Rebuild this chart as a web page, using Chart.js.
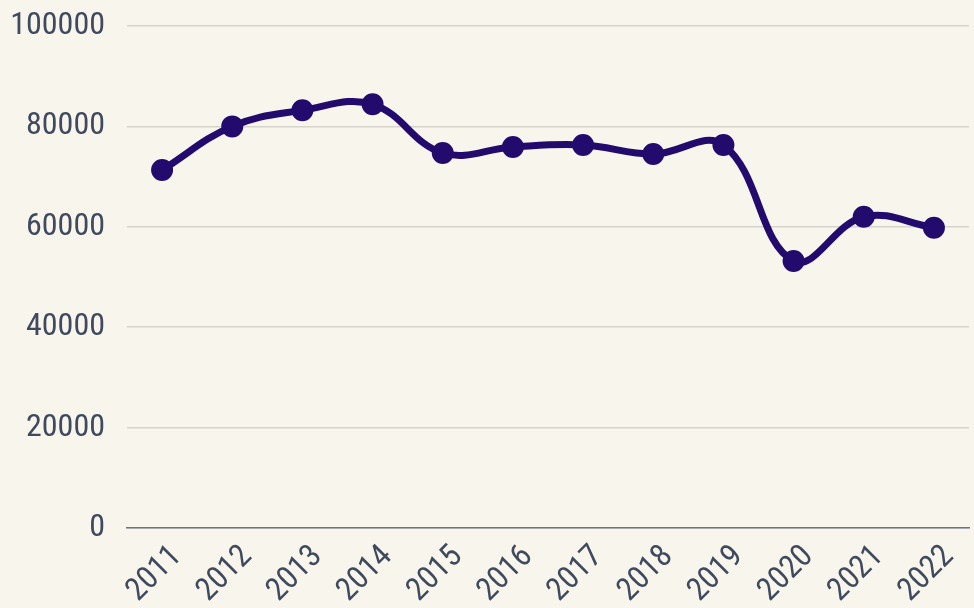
<!DOCTYPE html>
<html>
<head>
<meta charset="utf-8">
<script src="https://cdn.jsdelivr.net/npm/chart.js@4"></script>
<style>
  html, body { margin: 0; padding: 0; background: #f8f5ec; }
  #wrap { width: 974px; height: 608px; }
</style>
</head>
<body>
<div id="wrap"><canvas id="lineChart"></canvas></div>
<script>
// values
const years = ['2011', '2012', '2013', '2014', '2015', '2016', '2017', '2018', '2019', '2020', '2021', '2022'];
const values = [71300, 80000, 83200, 84400, 74700, 75900, 76300, 74500, 76300, 53200, 62000, 59800];
const yTicks = [0, 20000, 40000, 60000, 80000, 100000];

const fontFamily = '"Roboto Condensed", "Liberation Sans Narrow", "Roboto", sans-serif';

const ctx = document.getElementById('lineChart').getContext('2d');
const lineChart = new Chart(ctx, {
  type: 'line',
  data: {
    labels: years,
    datasets: [{
      data: values,
      borderColor: '#230b6e',
      backgroundColor: '#230b6e',
      borderWidth: 7,
      pointRadius: 7.5,
      pointHoverRadius: 7.5,
      tension: 0.4
    }]
  },
  options: {
    responsive: true,
    maintainAspectRatio: false,
    animation: false,
    layout: { autoPadding: false, padding: { top: 26, right: 5, left: 12, bottom: 0 } },
    plugins: { legend: { display: false }, tooltip: { enabled: false } },
    scales: {
      x: {
        offset: true,
        grid: { display: false, drawTicks: false },
        border: { display: true, color: '#6b7385', width: 1.5 },
        ticks: {
          color: '#3f4a5e',
          font: { family: fontFamily, size: 32 },
          maxRotation: 45,
          minRotation: 45,
          padding: 10,
          labelOffset: 15
        },
        // keep the rotated labels from pushing the plot inwards
        afterFit: axis => {
          axis.height = 80;
          axis.paddingLeft = 0;
          axis.paddingRight = 0;
          axis.paddingTop = 0;
          axis.paddingBottom = 0;
        }
      },
      y: {
        min: 0,
        max: 100000,
        afterBuildTicks: axis => { axis.ticks = yTicks.map(v => ({ value: v })); },
        grid: { color: '#d6d3cc', lineWidth: 1.5, drawTicks: false },
        border: { display: false },
        ticks: {
          color: '#3f4a5e',
          font: { family: fontFamily, size: 32 },
          padding: 22,
          callback: v => String(v)
        },
        afterFit: axis => {
          axis.width = 115;
          axis.paddingTop = 0;
          axis.paddingBottom = 0;
        }
      }
    }
  }
});
</script>
</body>
</html>
